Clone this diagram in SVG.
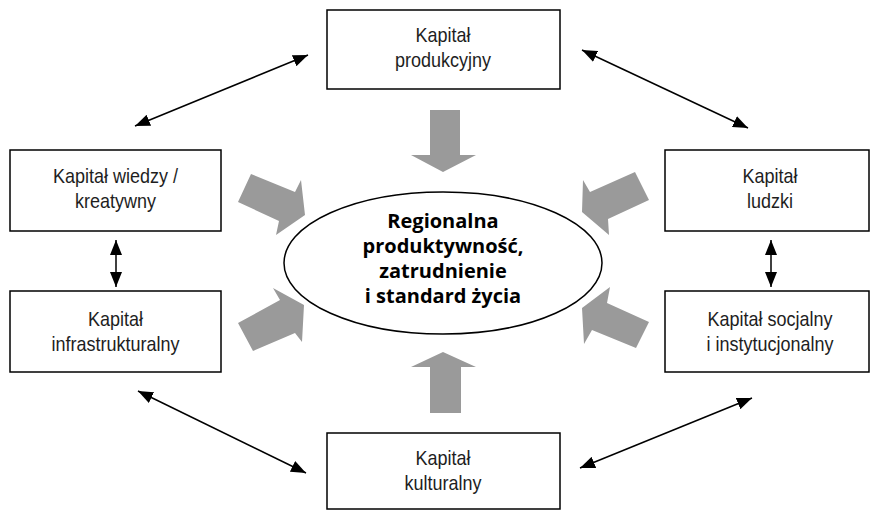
<svg xmlns="http://www.w3.org/2000/svg" width="870" height="512" viewBox="0 0 870 512">
  <style>
    .box { fill: #ffffff; stroke: #000000; stroke-width: 1.5; }
    .lbl { font-family: "Liberation Sans", Arial, sans-serif; font-size: 20px; fill: #1e1e1e; text-anchor: middle; }
    .core { font-family: "Open Sans", "Noto Sans", sans-serif; font-weight: 700; font-size: 20px; fill: #000000; text-anchor: middle; }
    .link { stroke: #000000; stroke-width: 1.5; fill: none; marker-start: url(#tip); marker-end: url(#tip); }
    .flow { fill: #9a9a9a; stroke: none; }
  </style>
  <defs>
    <marker id="tip" markerUnits="userSpaceOnUse" markerWidth="16" markerHeight="12" refX="15" refY="6" orient="auto-start-reverse">
      <path d="M0,0 L15,6 L0,12 z" fill="#000000"/>
    </marker>
  </defs>
  <rect width="870" height="512" fill="#ffffff"/>

  <!-- central outcome -->
  <g id="outcome">
    <ellipse cx="443" cy="263" rx="159" ry="71" fill="#ffffff" stroke="#000000" stroke-width="1.5"/>
    <text class="core" x="443" y="228">Regionalna</text>
    <text class="core" x="443" y="253">produktywność,</text>
    <text class="core" x="443" y="278">zatrudnienie</text>
    <text class="core" x="443" y="303">i standard życia</text>
  </g>

  <!-- capital nodes -->
  <g id="produkcyjny">
    <rect class="box" x="327" y="10" width="233" height="79"/>
    <g transform="translate(443 0) scale(0.9 1)">
      <text class="lbl" x="0" y="42">Kapitał</text>
      <text class="lbl" x="0" y="67">produkcyjny</text>
    </g>
  </g>
  <g id="wiedzy">
    <rect class="box" x="10" y="150" width="211" height="81"/>
    <g transform="translate(115.5 0) scale(0.9 1)">
      <text class="lbl" x="0" y="183">Kapitał wiedzy /</text>
      <text class="lbl" x="0" y="208">kreatywny</text>
    </g>
  </g>
  <g id="ludzki">
    <rect class="box" x="665" y="150" width="204" height="81"/>
    <g transform="translate(770 0) scale(0.9 1)">
      <text class="lbl" x="0" y="183">Kapitał</text>
      <text class="lbl" x="0" y="208">ludzki</text>
    </g>
  </g>
  <g id="infrastrukturalny">
    <rect class="box" x="10" y="291" width="211" height="81"/>
    <g transform="translate(115.5 0) scale(0.9 1)">
      <text class="lbl" x="0" y="326">Kapitał</text>
      <text class="lbl" x="0" y="351">infrastrukturalny</text>
    </g>
  </g>
  <g id="socjalny">
    <rect class="box" x="665" y="291" width="204" height="81"/>
    <g transform="translate(770 0) scale(0.9 1)">
      <text class="lbl" x="0" y="326">Kapitał socjalny</text>
      <text class="lbl" x="0" y="351">i instytucjonalny</text>
    </g>
  </g>
  <g id="kulturalny">
    <rect class="box" x="327" y="433" width="233" height="76"/>
    <g transform="translate(443 0) scale(0.9 1)">
      <text class="lbl" x="0" y="465">Kapitał</text>
      <text class="lbl" x="0" y="490">kulturalny</text>
    </g>
  </g>

  <!-- connectors: grey block arrows into the outcome, black two-way links between capitals -->
  <g id="connectors">
    <polygon class="flow" points="430,110 460,110 460,155 476,155 443,172 411,155 430,155"/>
    <polygon class="flow" points="443,352 476,367 461,367 461,413 430,413 430,367 411,367"/>
    <polygon class="flow" points="251,174 295,192 301,180 305,215 276,235 279,221 238,202"/>
    <polygon class="flow" points="635,172 590,192 583,180 582,212 609,235 608,219 649,200"/>
    <polygon class="flow" points="238,323 280,300 273,288 304,305 302,342 295,333 253,351"/>
    <polygon class="flow" points="649,322 607,303 610,287 582,308 584,344 592,330 636,348"/>

    <line class="link" x1="135" y1="126" x2="308" y2="55"/>
    <line class="link" x1="582" y1="50" x2="748" y2="128"/>
    <line class="link" x1="138" y1="391" x2="306" y2="473"/>
    <line class="link" x1="580" y1="468" x2="752" y2="398"/>
    <line class="link" x1="116" y1="240" x2="116" y2="287"/>
    <line class="link" x1="771" y1="240" x2="771" y2="287"/>
  </g>
</svg>
